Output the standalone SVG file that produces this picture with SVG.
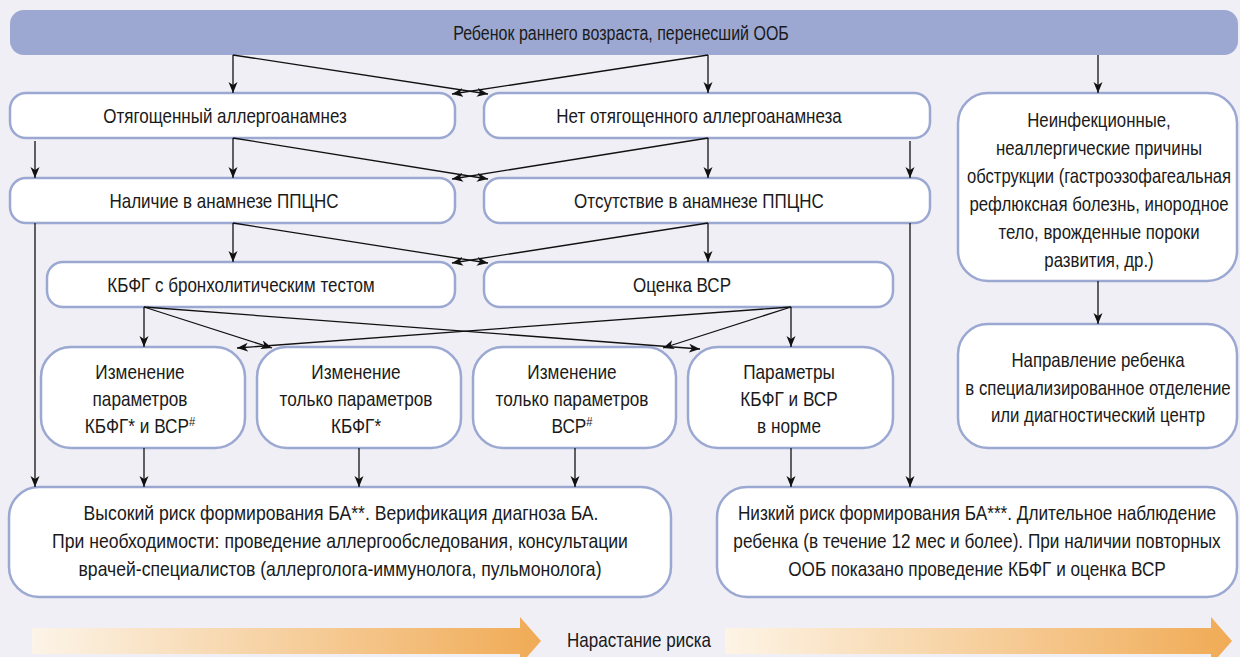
<svg xmlns="http://www.w3.org/2000/svg" width="1240" height="657" viewBox="0 0 1240 657">
<defs>
<marker id="ah" markerUnits="userSpaceOnUse" markerWidth="12" markerHeight="10" refX="11" refY="4.5" orient="auto">
<path d="M0,0 L11,4.5 L0,9 L3,4.5 z" fill="#111"/>
</marker>
<linearGradient id="g1" x1="0" y1="0" x2="1" y2="0">
<stop offset="0" stop-color="#fcf4e8"/>
<stop offset="1" stop-color="#f0ab55"/>
</linearGradient>
<linearGradient id="g2" x1="0" y1="0" x2="1" y2="0">
<stop offset="0" stop-color="#fdf4e6"/>
<stop offset="1" stop-color="#f0ab55"/>
</linearGradient>
</defs>
<style>
.bx{fill:#ffffff;stroke:#9ba8d2;stroke-width:2.5}
.t{font-family:"Liberation Sans",Arial,sans-serif;font-size:20px;fill:#1a1a1a;text-anchor:middle}
.sup{font-size:13px}
.c line{stroke:#111;stroke-width:1.3;marker-end:url(#ah)}
</style>
<rect x="0" y="0" width="1240" height="657" fill="#f1eff6"/>

<g id="top">
<rect x="10" y="10" width="1228" height="45" rx="14" fill="#9ca8d1"/>
<text class="t" transform="translate(621,40) scale(0.8,1)">Ребенок раннего возраста, перенесший ООБ</text>
</g>

<g id="n1">
<rect class="bx" x="10" y="93" width="445" height="45" rx="16"/>
<text class="t" transform="translate(225,123) scale(0.85,1)">Отягощенный аллергоанамнез</text>
</g>
<g id="n2">
<rect class="bx" x="484" y="93" width="446" height="45" rx="16"/>
<text class="t" transform="translate(699,123) scale(0.85,1)">Нет отягощенного аллергоанамнеза</text>
</g>
<g id="n3">
<rect class="bx" x="10" y="178" width="445" height="45" rx="16"/>
<text class="t" transform="translate(224,208) scale(0.85,1)">Наличие в анамнезе ППЦНС</text>
</g>
<g id="n4">
<rect class="bx" x="484" y="178" width="446" height="45" rx="16"/>
<text class="t" transform="translate(699,208) scale(0.85,1)">Отсутствие в анамнезе ППЦНС</text>
</g>
<g id="n5">
<rect class="bx" x="47" y="262" width="408" height="45" rx="16"/>
<text class="t" transform="translate(241,292) scale(0.85,1)">КБФГ с бронхолитическим тестом</text>
</g>
<g id="n6">
<rect class="bx" x="484" y="262" width="409" height="45" rx="16"/>
<text class="t" transform="translate(682,292) scale(0.85,1)">Оценка ВСР</text>
</g>

<g id="n7">
<rect class="bx" x="41" y="347" width="204" height="101" rx="30"/>
<text class="t" transform="translate(140,379) scale(0.86,1)">Изменение</text>
<text class="t" transform="translate(140,406) scale(0.86,1)">параметров</text>
<text class="t" transform="translate(140,433) scale(0.86,1)">КБФГ* и ВСР<tspan class="sup" dy="-7">#</tspan></text>
</g>
<g id="n8">
<rect class="bx" x="257" y="347" width="204" height="101" rx="30"/>
<text class="t" transform="translate(356,379) scale(0.86,1)">Изменение</text>
<text class="t" transform="translate(356,406) scale(0.86,1)">только параметров</text>
<text class="t" transform="translate(356,433) scale(0.86,1)">КБФГ*</text>
</g>
<g id="n9">
<rect class="bx" x="473" y="347" width="203" height="101" rx="30"/>
<text class="t" transform="translate(572,379) scale(0.86,1)">Изменение</text>
<text class="t" transform="translate(572,406) scale(0.86,1)">только параметров</text>
<text class="t" transform="translate(572,433) scale(0.86,1)">ВСР<tspan class="sup" dy="-7">#</tspan></text>
</g>
<g id="n10">
<rect class="bx" x="688" y="347" width="205" height="101" rx="30"/>
<text class="t" transform="translate(789,379) scale(0.86,1)">Параметры</text>
<text class="t" transform="translate(789,406) scale(0.86,1)">КБФГ и ВСР</text>
<text class="t" transform="translate(789,433) scale(0.86,1)">в норме</text>
</g>

<g id="n11">
<rect class="bx" x="958" y="93" width="279" height="188" rx="30"/>
<text class="t" transform="translate(1099,127) scale(0.84,1)">Неинфекционные,</text>
<text class="t" transform="translate(1099,155) scale(0.84,1)">неаллергические причины</text>
<text class="t" transform="translate(1099,183) scale(0.83,1)">обструкции (гастроэзофагеальная</text>
<text class="t" transform="translate(1099,211) scale(0.84,1)">рефлюксная болезнь, инородное</text>
<text class="t" transform="translate(1099,239) scale(0.84,1)">тело, врожденные пороки</text>
<text class="t" transform="translate(1099,267) scale(0.84,1)">развития, др.)</text>
</g>
<g id="n12">
<rect class="bx" x="958" y="324" width="279" height="124" rx="30"/>
<text class="t" transform="translate(1098,367) scale(0.84,1)">Направление ребенка</text>
<text class="t" transform="translate(1098,395) scale(0.84,1)">в специализированное отделение</text>
<text class="t" transform="translate(1098,422) scale(0.84,1)">или диагностический центр</text>
</g>

<g id="n13">
<rect class="bx" x="9" y="487" width="662" height="110" rx="30"/>
<text class="t" transform="translate(341,520) scale(0.88,1)">Высокий риск формирования БА**. Верификация диагноза БА.</text>
<text class="t" transform="translate(340,548) scale(0.88,1)">При необходимости: проведение аллергообследования, консультации</text>
<text class="t" transform="translate(340,576) scale(0.88,1)">врачей-специалистов (аллерголога-иммунолога, пульмонолога)</text>
</g>
<g id="n14">
<rect class="bx" x="717" y="487" width="520" height="110" rx="30"/>
<text class="t" transform="translate(977,520) scale(0.86,1)">Низкий риск формирования БА***. Длительное наблюдение</text>
<text class="t" transform="translate(977,548) scale(0.86,1)">ребенка (в течение 12 мес и более). При наличии повторных</text>
<text class="t" transform="translate(977,576) scale(0.86,1)">ООБ показано проведение КБФГ и оценка ВСР</text>
</g>

<g id="risk">
<path d="M32,628 L520,628 L520,617 L541,641 L520,665 L520,654 L32,654 z" fill="url(#g1)"/>
<path d="M725,628 L1211,628 L1211,617 L1232,641 L1211,665 L1211,654 L725,654 z" fill="url(#g2)"/>
<text class="t" transform="translate(639,647) scale(0.85,1)">Нарастание риска</text>
</g>

<g class="c" id="connectors">
<line x1="233" y1="55" x2="233" y2="93"/>
<line x1="233" y1="55" x2="488" y2="94"/>
<line x1="708" y1="55" x2="708" y2="93"/>
<line x1="708" y1="55" x2="452" y2="94"/>
<line x1="1098" y1="55" x2="1098" y2="93"/>
<line x1="35" y1="141" x2="35" y2="178"/>
<line x1="233" y1="138" x2="233" y2="178"/>
<line x1="233" y1="138" x2="488" y2="179"/>
<line x1="708" y1="138" x2="708" y2="178"/>
<line x1="708" y1="138" x2="452" y2="179"/>
<line x1="910" y1="141" x2="910" y2="178"/>
<line x1="35" y1="223" x2="35" y2="487"/>
<line x1="233" y1="223" x2="233" y2="262"/>
<line x1="233" y1="223" x2="488" y2="263"/>
<line x1="708" y1="223" x2="708" y2="262"/>
<line x1="708" y1="223" x2="452" y2="263"/>
<line x1="910" y1="223" x2="910" y2="487"/>
<line x1="144" y1="307" x2="144" y2="347"/>
<line x1="144" y1="307" x2="272" y2="348"/>
<line x1="144" y1="307" x2="700" y2="349"/>
<line x1="791" y1="307" x2="791" y2="347"/>
<line x1="791" y1="307" x2="237" y2="348"/>
<line x1="791" y1="307" x2="663" y2="348"/>
<line x1="1098" y1="281" x2="1098" y2="324"/>
<line x1="144" y1="448" x2="144" y2="487"/>
<line x1="359" y1="448" x2="359" y2="487"/>
<line x1="575" y1="448" x2="575" y2="487"/>
<line x1="791" y1="448" x2="791" y2="487"/>
</g>
</svg>
